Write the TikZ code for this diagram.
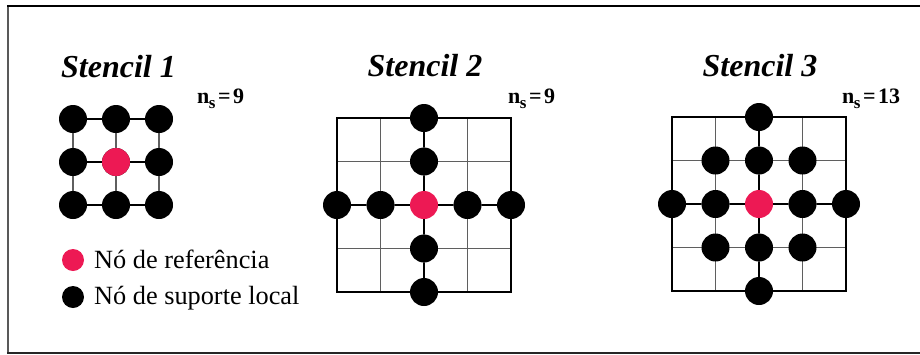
\documentclass[tikz,border=0pt]{standalone}
\usepackage{fontspec}
\setmainfont{Liberation Serif}
\definecolor{refred}{RGB}{237,25,84}
\definecolor{gridgray}{RGB}{95,95,95}
\begin{document}
\begin{tikzpicture}[x=1pt,y=-1pt,
  dot/.style={circle,fill=black,minimum size=28pt,inner sep=0pt},
  refdot/.style={dot,fill=refred},
  legdot/.style={circle,fill=black,minimum size=22pt,inner sep=0pt},
  gridin/.style={line width=1.2pt,draw=gridgray},
  gridout/.style={line width=1.2pt,draw=black},
  link/.style={line width=1.2pt,draw=black},
  title/.style={font=\fontsize{32}{36}\selectfont\bfseries\itshape,anchor=base,inner sep=0pt},
  nslab/.style={font=\fontsize{22}{24}\selectfont\bfseries,anchor=base west,inner sep=0pt},
  legtext/.style={font=\fontsize{26.3}{28}\selectfont,anchor=base west,inner sep=0pt}]
\useasboundingbox (0,0) rectangle (920,354);
% frame
\draw[line width=1.8pt,draw=black!65] (8,5.5) -- (8,353);
\draw[line width=1.6pt,draw=black] (7.2,6) -- (920,6);
\draw[line width=1.6pt,draw=black!85] (7.2,353) -- (920,353);

\newcommand{\nsub}[1]{n\kern-0.5pt\raisebox{-0.5ex}{\fontsize{17}{18}\selectfont s}\kern2.5pt=\kern2.5pt#1}

% ---------- Stencil 1 ----------
\node[title] (t1) at (118.5,77) {Stencil 1};
\node[nslab] (n1) at (197,103) {\nsub{9}};
\draw[gridin] (73,119) rectangle (159,205);
\draw[gridin] (116,119) -- (116,205) (73,162) -- (159,162);
\draw[link] (73,119) -- (159,119) (73,205) -- (159,205) (73,162) -- (159,162);
\foreach \i/\x in {1/73,2/116,3/159}
  \foreach \j/\y in {1/119,2/162,3/205}
    \node[dot] (a\i\j) at (\x,\y) {};
\node[refdot] (a22) at (116,162) {};

% ---------- Stencil 2 ----------
\node[title] (t2) at (425,76) {Stencil 2};
\node[nslab] (n2) at (508,103) {\nsub{9}};
\foreach \k in {380.5,424,467.5}
  \draw[gridin] (\k,118) -- (\k,292);
\foreach \k in {161.5,205,248.5}
  \draw[gridin] (337,\k) -- (511,\k);
\draw[gridout] (337,118) rectangle (511,292);
\foreach \i/\x in {1/337,2/380.5,4/467.5,5/511}
  \node[dot] (bh\i) at (\x,205) {};
\foreach \j/\y in {1/118,2/161.5,4/248.5,5/292}
  \node[dot] (bv\j) at (424,\y) {};
\node[refdot] (bc) at (424,205) {};
\draw[link] (bh1) -- (bh2) -- (bc) -- (bh4) -- (bh5);
\draw[link] (bv1) -- (bv2) -- (bc) -- (bv4) -- (bv5);

% ---------- Stencil 3 ----------
\node[title] (t3) at (760,76) {Stencil 3};
\node[nslab] (n3) at (842,103) {\nsub{13}};
\foreach \k in {715.5,759,802.5}
  \draw[gridin] (\k,117) -- (\k,291);
\foreach \k in {160.5,204,247.5}
  \draw[gridin] (672,\k) -- (846,\k);
\draw[gridout] (672,117) rectangle (846,291);
\foreach \i/\x in {1/672,2/715.5,4/802.5,5/846}
  \node[dot] (ch\i) at (\x,204) {};
\foreach \j/\y in {1/117,2/160.5,4/247.5,5/291}
  \node[dot] (cv\j) at (759,\y) {};
\node[dot] (cd1) at (715.5,160.5) {};
\node[dot] (cd2) at (802.5,160.5) {};
\node[dot] (cd3) at (715.5,247.5) {};
\node[dot] (cd4) at (802.5,247.5) {};
\node[refdot] (cc) at (759,204) {};
\draw[link] (ch1) -- (ch2) -- (cc) -- (ch4) -- (ch5);
\draw[link] (cv1) -- (cv2) -- (cc) -- (cv4) -- (cv5);

% ---------- Legend ----------
\node[legdot,fill=refred] (l1) at (73,260) {};
\node[legdot] (l2) at (73,297) {};
\node[legtext] (lt1) at (94,268) {Nó de referência};
\node[legtext] (lt2) at (94,304) {Nó de suporte local};
\end{tikzpicture}
\end{document}
